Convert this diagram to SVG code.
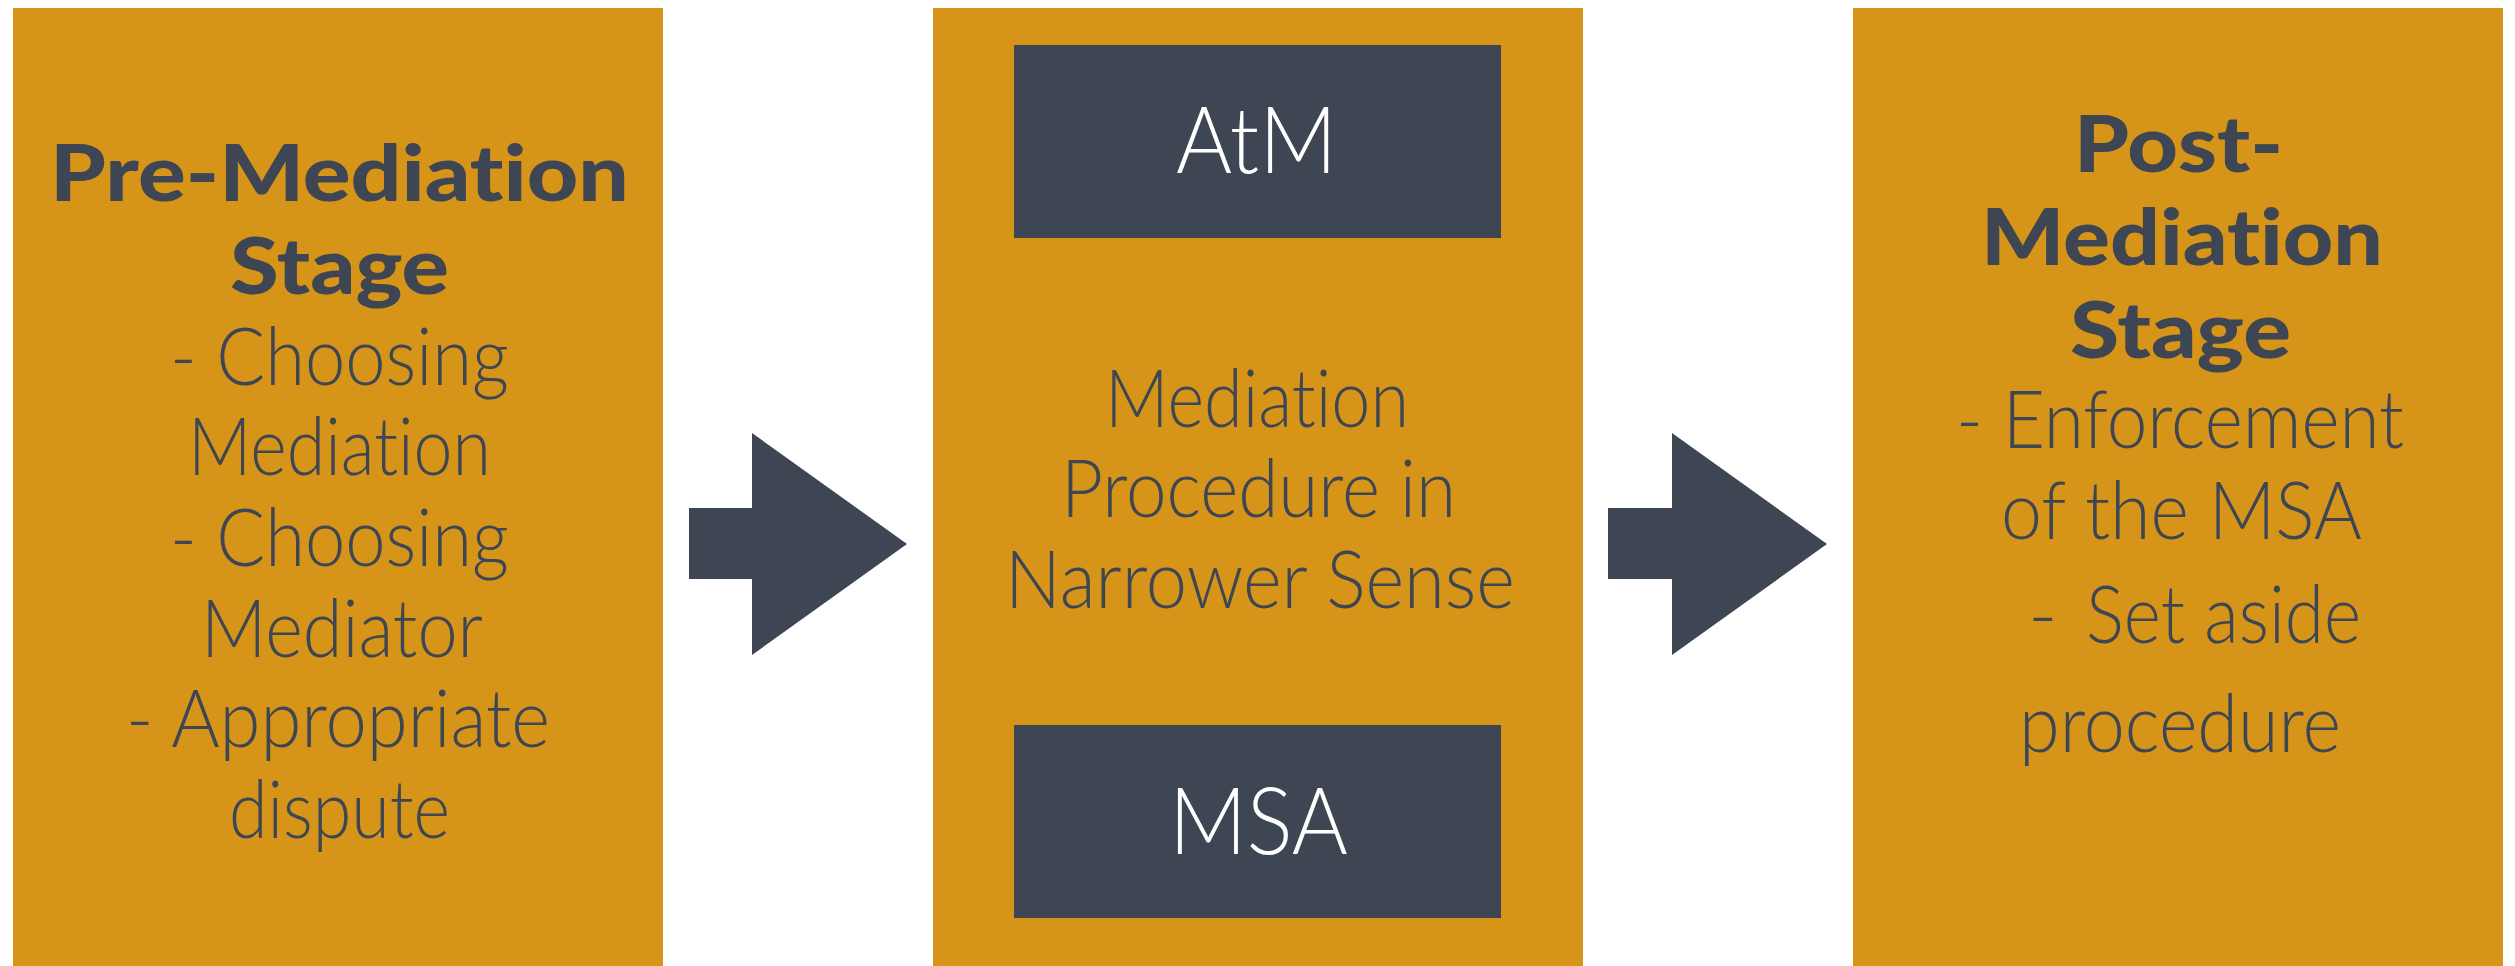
<svg xmlns="http://www.w3.org/2000/svg" width="2515" height="966" viewBox="0 0 2515 966">
<style>
.box{fill:#D69519}
.inner{fill:#3E4553}
.arrow{fill:#3E4553}
text{font-variant-ligatures:none;font-feature-settings:"liga" 0,"clig" 0,"dlig" 0}
.t{font-family:Lato,"Open Sans","Liberation Sans",sans-serif;font-weight:300;font-size:80px;fill:#3E4553}
.b{font-family:Lato,"Open Sans","Liberation Sans",sans-serif;font-weight:900;font-size:78px;fill:#3E4553}
.w{font-family:Lato,"Open Sans","Liberation Sans",sans-serif;font-weight:300;font-size:92px;fill:#FFFFFF}
</style>
<rect width="2515" height="966" fill="#FFFFFF"/>
<g id="pre-mediation">
<rect class="box" x="13" y="8" width="650" height="958"/>
<text class="b" x="50" y="201" textLength="579" lengthAdjust="spacingAndGlyphs">Pre-Mediation</text>
<text class="b" x="230" y="294" textLength="219" lengthAdjust="spacingAndGlyphs">Stage</text>
<text class="t" x="170" y="385" textLength="339" lengthAdjust="spacingAndGlyphs">- Choosing</text>
<text class="t" x="188" y="475" textLength="303" lengthAdjust="spacingAndGlyphs">Mediation</text>
<text class="t" x="170" y="566" textLength="339" lengthAdjust="spacingAndGlyphs">- Choosing</text>
<text class="t" x="201" y="657" textLength="282" lengthAdjust="spacingAndGlyphs">Mediator</text>
<text class="t" x="126" y="747" textLength="424" lengthAdjust="spacingAndGlyphs">- Appropriate</text>
<text class="t" x="229" y="838" textLength="221" lengthAdjust="spacingAndGlyphs">dispute</text>
</g>
<g id="mediation-procedure">
<rect class="box" x="933" y="8" width="650" height="958"/>
<g id="atm">
<rect class="inner" x="1014" y="45" width="487" height="193"/>
<text class="w" x="1176" y="173" textLength="161" lengthAdjust="spacingAndGlyphs">AtM</text>
</g>
<text class="t" x="1105" y="427" textLength="304" lengthAdjust="spacingAndGlyphs">Mediation</text>
<text class="t" x="1061" y="517" textLength="395" lengthAdjust="spacingAndGlyphs">Procedure in</text>
<text class="t" x="1005" y="608" textLength="510" lengthAdjust="spacingAndGlyphs">Narrower Sense</text>
<g id="msa">
<rect class="inner" x="1014" y="725" width="487" height="193"/>
<text class="w" x="1169" y="854" textLength="179" lengthAdjust="spacingAndGlyphs">MSA</text>
</g>
</g>
<g id="post-mediation">
<rect class="box" x="1853" y="8" width="650" height="958"/>
<text class="b" x="2074" y="172" textLength="209" lengthAdjust="spacingAndGlyphs">Post-</text>
<text class="b" x="1981" y="265" textLength="402" lengthAdjust="spacingAndGlyphs">Mediation</text>
<text class="b" x="2070" y="358" textLength="221" lengthAdjust="spacingAndGlyphs">Stage</text>
<text class="t" x="1956" y="448" textLength="448" lengthAdjust="spacingAndGlyphs">- Enforcement</text>
<text class="t" x="2001" y="539" textLength="361" lengthAdjust="spacingAndGlyphs">of the MSA</text>
<text class="t" y="643"><tspan x="2028">-</tspan><tspan x="2086" textLength="275" lengthAdjust="spacingAndGlyphs">Set aside</tspan></text>
<text class="t" x="2019" y="752" textLength="322" lengthAdjust="spacingAndGlyphs">procedure</text>
</g>
<g id="connectors">
<polygon class="arrow" points="689,508 752,508 752,433 907,544 752,655 752,579 689,579"/>
<polygon class="arrow" points="1608,508 1672,508 1672,433 1827,544 1672,655 1672,579 1608,579"/>
</g>
</svg>
